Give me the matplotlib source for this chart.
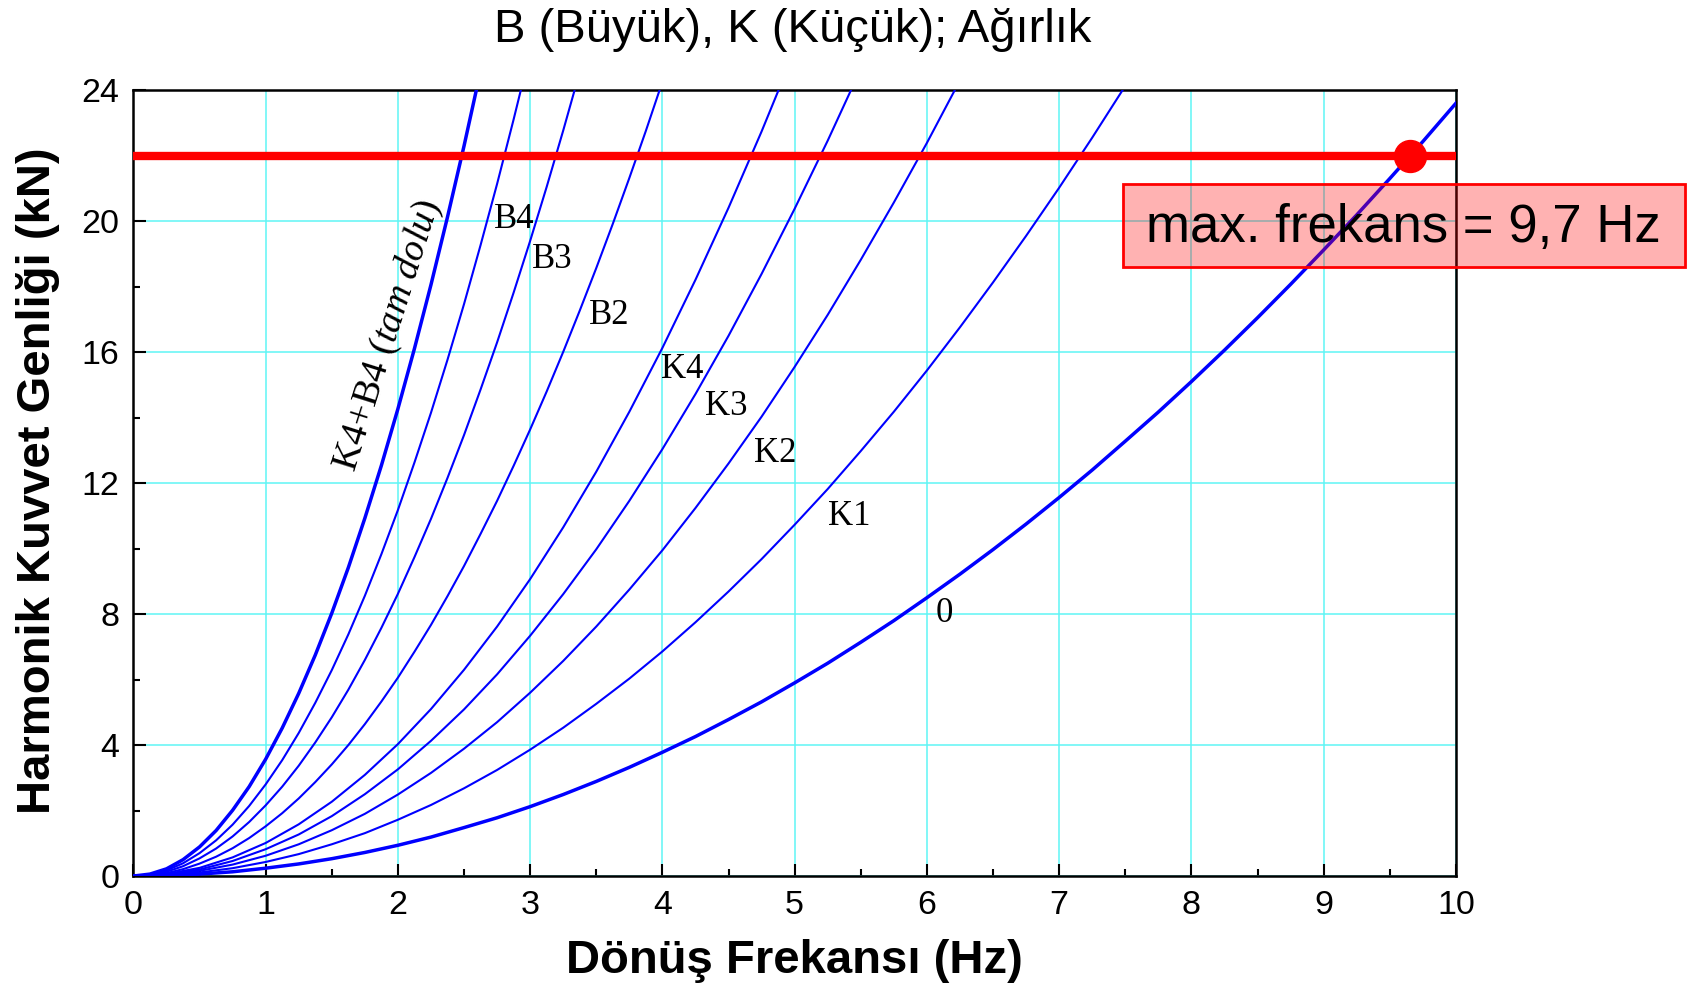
import matplotlib
matplotlib.use('Agg')
import matplotlib.pyplot as plt
from matplotlib.patches import Rectangle
from matplotlib.ticker import MultipleLocator

plt.rcParams['font.family'] = ['Liberation Sans', 'DejaVu Sans']
plt.rcParams['mathtext.fontset'] = 'custom'
plt.rcParams['mathtext.rm'] = 'Liberation Serif'
plt.rcParams['mathtext.it'] = 'Liberation Serif:italic'

#%% data (kN vs Hz)
freq = [0, 0.25, 0.5, 0.75, 1, 1.25, 1.5, 1.75, 2, 2.25, 2.5, 2.75, 3, 3.25,
        3.5, 3.75, 4, 4.25, 4.5, 4.75, 5, 5.25, 5.5, 5.75, 6, 6.25, 6.5, 6.75,
        7, 7.25, 7.5, 7.75, 8, 8.25, 8.5, 8.75, 9, 9.25, 9.5, 9.75, 10]
# finer steps for the steep curves
freq_fine = [0, 0.125, 0.25, 0.375, 0.5, 0.625, 0.75, 0.875, 1, 1.125, 1.25,
             1.375, 1.5, 1.625, 1.75, 1.875, 2, 2.125, 2.25, 2.375, 2.5,
             2.625, 2.75, 2.875, 3, 3.125, 3.25, 3.375, 3.5, 3.625, 3.75,
             3.875, 4]

f_0 = [0, 0.01, 0.06, 0.13, 0.24, 0.37, 0.53, 0.72, 0.94, 1.19, 1.48, 1.78,
       2.12, 2.49, 2.89, 3.32, 3.78, 4.26, 4.78, 5.32, 5.90, 6.50, 7.14, 7.80,
       8.50, 9.22, 9.97, 10.75, 11.56, 12.40, 13.28, 14.17, 15.10, 16.06,
       17.05, 18.07, 19.12, 20.19, 21.30, 22.43, 23.60]
f_k1 = [0, 0.03, 0.11, 0.24, 0.43, 0.67, 0.97, 1.31, 1.72, 2.17, 2.68, 3.24,
        3.86, 4.53, 5.26, 6.03, 6.86, 7.75, 8.69, 9.68, 10.73, 11.82, 12.98,
        14.18, 15.44, 16.76, 18.13, 19.55, 21.02, 22.55, 24.13]
f_k2 = [0, 0.04, 0.16, 0.35, 0.62, 0.97, 1.40, 1.90, 2.49, 3.15, 3.89, 4.70,
        5.60, 6.57, 7.62, 8.75, 9.95, 11.24, 12.60, 14.03, 15.55, 17.14,
        18.82, 20.57, 22.39, 24.30]
f_k3 = [0, 0.05, 0.20, 0.46, 0.82, 1.27, 1.83, 2.50, 3.26, 4.13, 5.09, 6.16,
        7.34, 8.61, 9.98, 11.46, 13.04, 14.72, 16.50, 18.39, 20.38, 22.46,
        24.65]
f_k4 = [0, 0.06, 0.25, 0.57, 1.01, 1.58, 2.27, 3.09, 4.03, 5.10, 6.30, 7.62,
        9.07, 10.65, 12.35, 14.18, 16.13, 18.21, 20.41, 22.74, 25.20]
# on freq_fine
f_b2 = [0, 0.02, 0.09, 0.21, 0.38, 0.59, 0.85, 1.16, 1.52, 1.92, 2.37, 2.87,
        3.41, 4.00, 4.64, 5.33, 6.06, 6.85, 7.67, 8.55, 9.47, 10.45, 11.46,
        12.53, 13.64, 14.80, 16.01, 17.27, 18.57, 19.92, 21.32, 22.76, 24.26]
f_b3 = [0, 0.03, 0.13, 0.30, 0.54, 0.84, 1.21, 1.65, 2.16, 2.73, 3.37, 4.08,
        4.85, 5.69, 6.60, 7.58, 8.62, 9.74, 10.91, 12.16, 13.47, 14.86, 16.30,
        17.82, 19.40, 21.05, 22.77, 24.56]
f_b4 = [0, 0.04, 0.17, 0.39, 0.70, 1.09, 1.57, 2.14, 2.80, 3.54, 4.37, 5.29,
        6.29, 7.38, 8.56, 9.83, 11.18, 12.63, 14.15, 15.77, 17.47, 19.27,
        21.14, 23.11, 25.16]
f_k4b4 = [0, 0.06, 0.22, 0.50, 0.89, 1.39, 2.01, 2.73, 3.57, 4.52, 5.58, 6.75,
          8.03, 9.42, 10.93, 12.54, 14.27, 16.11, 18.06, 20.13, 22.30, 24.59]

curve_names = ['0', 'K1', 'K2', 'K3', 'K4', 'B2', 'B3', 'B4']
label_x = [6.13, 5.41, 4.85, 4.48, 4.15, 3.60, 3.17, 2.88]
label_y = [8.02, 10.98, 12.89, 14.33, 15.48, 17.13, 18.84, 20.05]

max_force = 22.0
max_freq = 9.65

#%% plot
fig = plt.figure(figsize=[16.87, 9.91], dpi=100)
ax = fig.add_axes([0.0791, 0.116, 0.7839, 0.793])

blue = '#0000ff'
for vals in [f_k1, f_k2, f_k3, f_k4]:
    ax.plot(freq[:len(vals)], vals, color=blue, lw=1.5, zorder=3)
for vals in [f_b2, f_b3, f_b4]:
    ax.plot(freq_fine[:len(vals)], vals, color=blue, lw=1.5, zorder=3)
ax.plot(freq, f_0, color=blue, lw=2.5, zorder=3)
ax.plot(freq_fine[:len(f_k4b4)], f_k4b4, color=blue, lw=2.5, zorder=3)

ax.set_xlim(0, 10)
ax.set_ylim(0, 24)
ax.xaxis.set_major_locator(MultipleLocator(1))
ax.xaxis.set_minor_locator(MultipleLocator(0.5))
ax.yaxis.set_major_locator(MultipleLocator(4))
ax.yaxis.set_minor_locator(MultipleLocator(2))
ax.tick_params(which='both', direction='in', top=False, right=False,
               width=1.5, labelsize=24.5, pad=10)
ax.tick_params(which='major', length=9)
ax.tick_params(which='minor', length=5)
ax.grid(True, which='major', color='#5ff5f5', lw=1.1, zorder=0)
for sp in ax.spines.values():
    sp.set_linewidth(1.8)

for name, lx, ly in zip(curve_names, label_x, label_y):
    ax.text(lx, ly, name, family='Liberation Serif', fontsize=25,
            ha='center', va='center', zorder=4)
ax.text(1.93, 16.5, r'K4+B4 $\mathit{(tam\ dolu)}$', family='Liberation Serif',
        fontsize=27.5, rotation=72.5, ha='center', va='center',
        rotation_mode='anchor', zorder=4)

# limit line and point
ax.axhline(max_force, color='#ff0000', lw=6, zorder=5, solid_capstyle='butt')
ax.plot([max_freq], [max_force], 'o', color='#ff0000', ms=23, zorder=6,
        clip_on=False)

box = Rectangle((7.48, 18.6), 4.25, 2.54, facecolor=(1, 0, 0, 0.3),
                edgecolor='#ff0000', lw=2, zorder=7, clip_on=False)
ax.add_patch(box)
ax.text(9.605, 19.8, 'max. frekans = 9,7 Hz', fontsize=38, ha='center',
        va='center', zorder=8, clip_on=False)

fig.text(0.470, 0.970, 'B (Büyük), K (Küçük); Ağırlık', fontsize=34,
         ha='center', va='center')
fig.text(0.471, 0.030, 'Dönüş Frekansı (Hz)', fontsize=34, fontweight='bold',
         ha='center', va='center')
fig.text(0.0225, 0.515, 'Harmonik Kuvvet Genliği (kN)', fontsize=34,
         fontweight='bold', rotation=90, ha='center', va='center')

plt.savefig('out.png', dpi=100)
